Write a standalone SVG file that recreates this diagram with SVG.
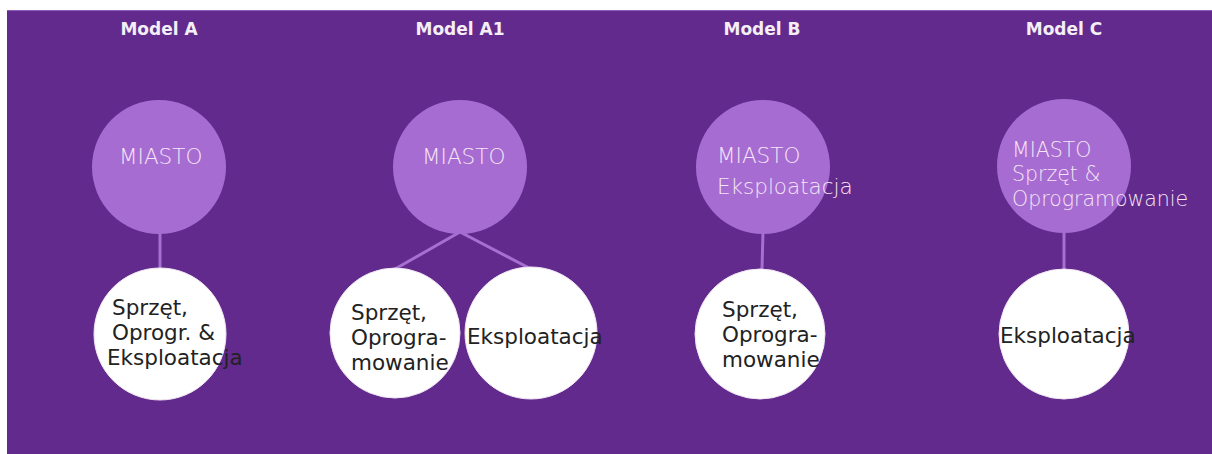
<svg xmlns="http://www.w3.org/2000/svg" width="1212" height="454" viewBox="0 0 1212 454">
<style>
.bg{fill:#622a8c}
.hub{fill:#a66cd2}
.leaf{fill:#ffffff;stroke:#f0e6f2;stroke-width:1}
.title{font-family:"DejaVu Sans",Verdana,sans-serif;font-weight:bold;font-size:17px;fill:#f4eef6;text-anchor:middle}
.lt{font-family:"DejaVu Sans",Verdana,sans-serif;font-weight:200;font-size:21.5px;fill:#f6e6f6}
.dk{font-family:"DejaVu Sans",Verdana,sans-serif;font-size:21.5px;fill:#222222}
.conn line{stroke:#a570d0;stroke-width:3}
</style>
<rect x="0" y="0" width="1212" height="454" fill="#ffffff"/>
<rect class="bg" x="7" y="10" width="1205" height="444"/>
<line x1="7" y1="10.5" x2="1212" y2="10.5" stroke="#8c5cb8" stroke-width="1"/>
<g id="titles">
<text class="title" x="159" y="35">Model A</text>
<text class="title" x="460" y="35">Model A1</text>
<text class="title" x="762" y="35">Model B</text>
<text class="title" x="1064" y="35">Model C</text>
</g>
<g id="connectors" class="conn">
<line x1="160" y1="232" x2="160" y2="269"/>
<line x1="460" y1="232" x2="395" y2="269"/>
<line x1="460" y1="232" x2="531" y2="269"/>
<line x1="763" y1="232" x2="762" y2="269"/>
<line x1="1064" y1="232" x2="1064" y2="269"/>
</g>
<g id="a-miasto">
<circle class="hub" cx="159" cy="167" r="67"/>
<text class="lt" x="119" y="164">MIASTO</text>
</g>
<g id="a-leaf">
<circle class="leaf" cx="160" cy="334" r="66"/>
<text class="dk" x="112" y="315">Sprzęt,</text>
<text class="dk" x="112" y="340">Oprogr. &amp;</text>
<text class="dk" x="107" y="365">Eksploatacja</text>
</g>
<g id="a1-miasto">
<circle class="hub" cx="460" cy="167" r="67"/>
<text class="lt" x="422" y="164">MIASTO</text>
</g>
<g id="a1-leaf1">
<circle class="leaf" cx="395" cy="333" r="65"/>
<text class="dk" x="351" y="320">Sprzęt,</text>
<text class="dk" x="351" y="345">Oprogra-</text>
<text class="dk" x="351" y="370">mowanie</text>
</g>
<g id="a1-leaf2">
<circle class="leaf" cx="531" cy="333" r="66"/>
<text class="dk" x="467" y="344">Eksploatacja</text>
</g>
<g id="b-miasto">
<circle class="hub" cx="763" cy="167" r="67"/>
<text class="lt" x="717" y="163">MIASTO</text>
<text class="lt" x="717" y="194">Eksploatacja</text>
</g>
<g id="b-leaf">
<circle class="leaf" cx="760" cy="334" r="65"/>
<text class="dk" x="722" y="317">Sprzęt,</text>
<text class="dk" x="722" y="342">Oprogra-</text>
<text class="dk" x="722" y="367">mowanie</text>
</g>
<g id="c-miasto">
<circle class="hub" cx="1064" cy="166" r="67"/>
<text class="lt" x="1012" y="157" style="font-size:20.5px">MIASTO</text>
<text class="lt" x="1012" y="181" style="font-size:20.5px">Sprzęt &amp;</text>
<text class="lt" x="1012" y="206" style="font-size:20.5px">Oprogramowanie</text>
</g>
<g id="c-leaf">
<circle class="leaf" cx="1064" cy="334" r="65"/>
<text class="dk" x="1000" y="343">Eksploatacja</text>
</g>
</svg>
